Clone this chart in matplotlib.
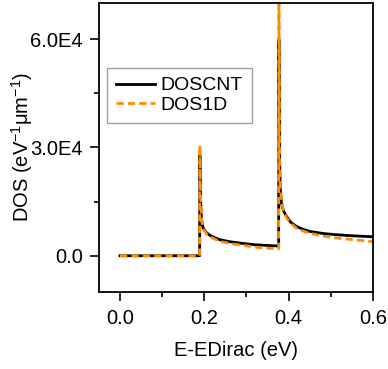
import matplotlib.pyplot as plt
from matplotlib.ticker import MultipleLocator, FuncFormatter

plt.rcParams['font.family'] = ['Liberation Sans', 'DejaVu Sans']
plt.rcParams['mathtext.fontset'] = 'custom'
plt.rcParams['mathtext.rm'] = 'Liberation Sans'

# energy (eV) and DOS values
energy = [0.0, 0.189, 0.1895, 0.191, 0.193, 0.195, 0.198, 0.205, 0.213, 0.225,
          0.237, 0.260, 0.285, 0.320, 0.350, 0.3765, 0.377, 0.3785, 0.380, 0.383,
          0.388, 0.395, 0.405, 0.419, 0.435, 0.450, 0.480, 0.510, 0.550, 0.600]
dos_cnt = [0, 0, 28000, 16000, 10500, 8700, 7500, 6400, 5700, 5000,
           4450, 3900, 3500, 3050, 2850, 2700, 60000, 28000, 19000, 14600,
           12400, 10900, 9300, 8100, 7300, 6750, 6200, 5850, 5550, 5250]
dos_1d = [0, 0, 30500, 17000, 11000, 8800, 7400, 6100, 5300, 4600,
          4000, 3400, 3000, 2400, 2100, 1900, 80000, 29000, 20000, 15000,
          12500, 10500, 9000, 7600, 6800, 6250, 5500, 4950, 4500, 3900]

fig = plt.figure(figsize=(3.88, 3.69), dpi=100)
ax = fig.add_axes([0.255, 0.209, 0.706, 0.783])

ax.plot(energy, dos_cnt, color='black', lw=2.0, label='DOSCNT')
ax.plot(energy, dos_1d, color='#ff8c00', lw=2.0, ls=(0, (2.6, 1.5)), label='DOS1D')

ax.set_xlim(-0.05, 0.6)
ax.set_ylim(-10000, 70000)
ax.xaxis.set_major_locator(MultipleLocator(0.2))
ax.xaxis.set_minor_locator(MultipleLocator(0.1))
ax.yaxis.set_major_locator(MultipleLocator(30000))
ax.yaxis.set_minor_locator(MultipleLocator(15000))
ax.xaxis.set_major_formatter(FuncFormatter(lambda v, p: f'{v:.1f}'))
ax.yaxis.set_major_formatter(FuncFormatter(lambda v, p: '0.0' if v == 0 else f'{v/1e4:.1f}E4'))

ax.tick_params(which='both', direction='out', width=1.2, labelsize=14.5, top=False, right=False)
ax.tick_params(which='major', length=6.5)
ax.tick_params(which='minor', length=3.8)
ax.tick_params(axis='y', pad=5)
ax.tick_params(axis='x', pad=5.5)
for s in ax.spines.values():
    s.set_linewidth(1.3)

ax.set_xlabel('E-EDirac (eV)', fontsize=14.5, labelpad=10)
ax.set_ylabel('DOS (eV$^{-1}$μm$^{-1}$)', fontsize=14.5)
ax.yaxis.set_label_coords(-0.235, 0.5)

leg = ax.legend(loc='upper left', bbox_to_anchor=(0.03, 0.775), fontsize=14,
                fancybox=False, edgecolor='#a0a0a0', handlelength=2.0,
                borderpad=0.45, labelspacing=0.1, handletextpad=0.3,
                borderaxespad=0.0, framealpha=1)
leg.get_frame().set_linewidth(1.0)

fig.savefig('out.png', dpi=100)
